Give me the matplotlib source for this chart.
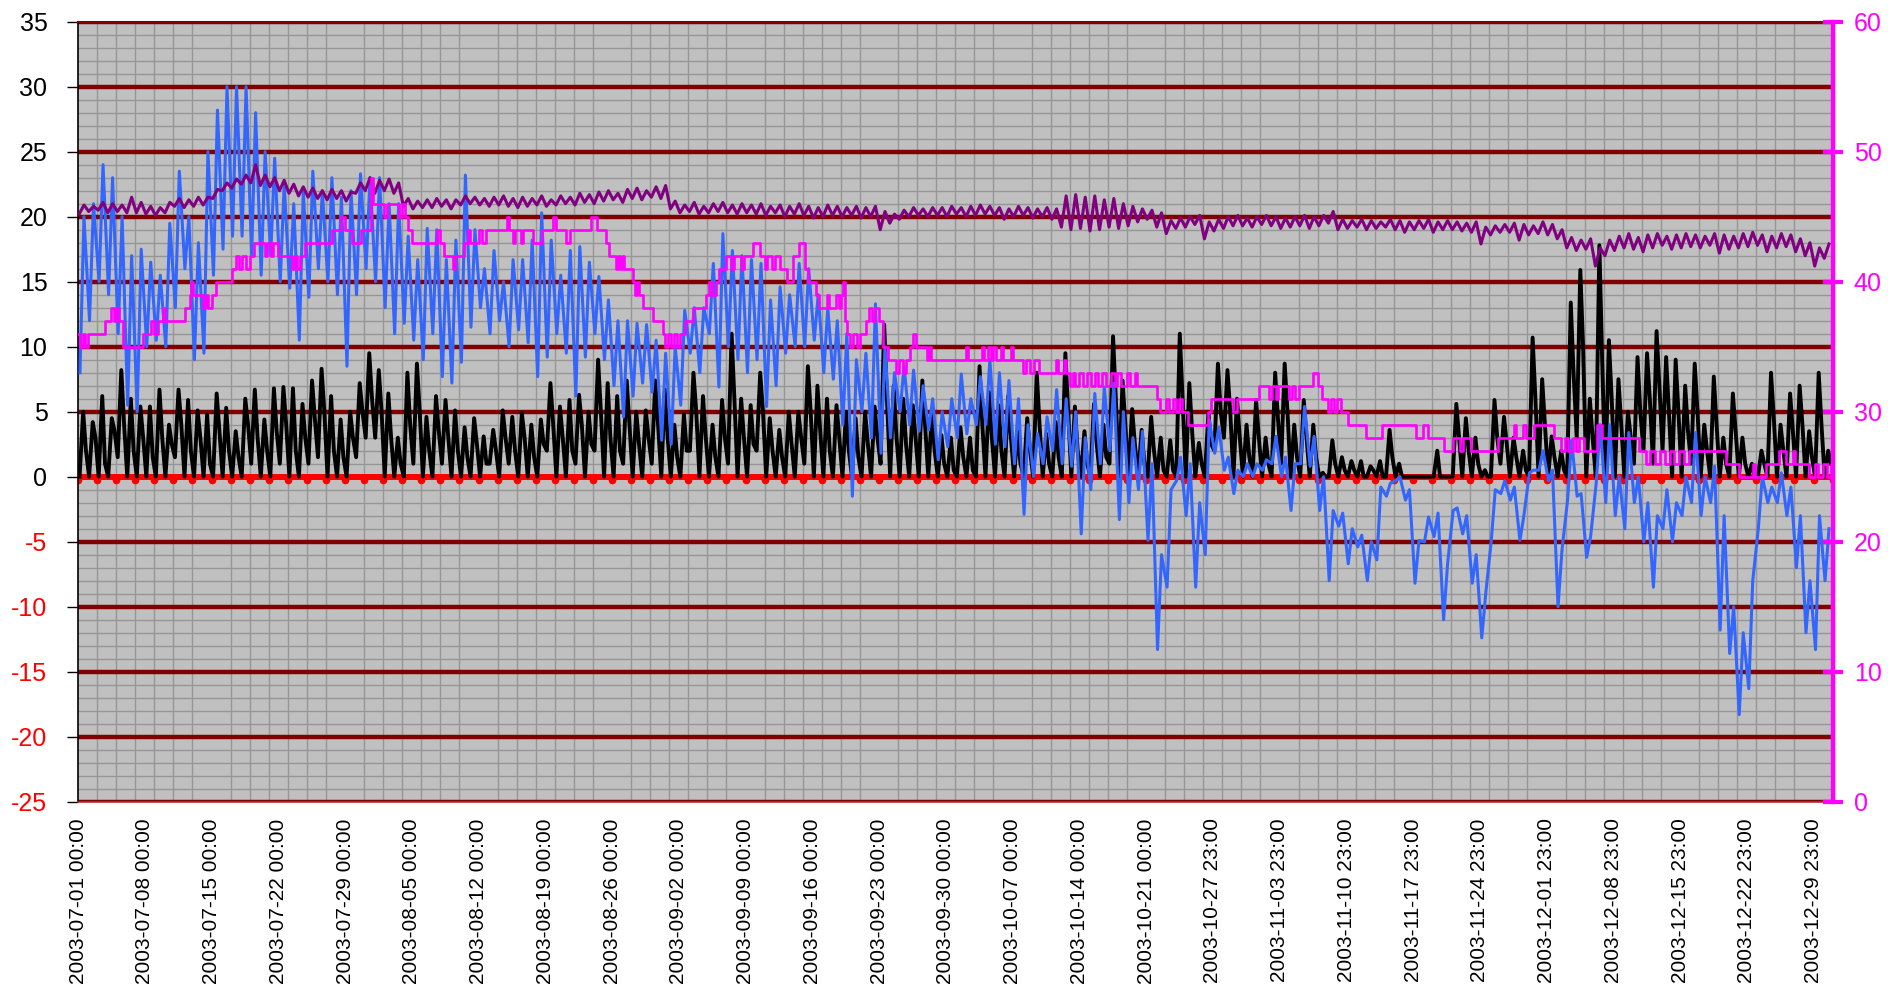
import numpy as np
import matplotlib
matplotlib.use("Agg")
import matplotlib.pyplot as plt
from matplotlib.ticker import MultipleLocator
from matplotlib.transforms import ScaledTranslation

plt.rcParams['font.family'] = ['Liberation Sans', 'DejaVu Sans']

# x tick labels (one every 168 hourly records)
tick_labels = [
    "2003-07-01 00:00", "2003-07-08 00:00", "2003-07-15 00:00", "2003-07-22 00:00",
    "2003-07-29 00:00", "2003-08-05 00:00", "2003-08-12 00:00", "2003-08-19 00:00",
    "2003-08-26 00:00", "2003-09-02 00:00", "2003-09-09 00:00", "2003-09-16 00:00",
    "2003-09-23 00:00", "2003-09-30 00:00", "2003-10-07 00:00", "2003-10-14 00:00",
    "2003-10-21 00:00", "2003-10-27 23:00", "2003-11-03 23:00", "2003-11-10 23:00",
    "2003-11-17 23:00", "2003-11-24 23:00", "2003-12-01 23:00", "2003-12-08 23:00",
    "2003-12-15 23:00", "2003-12-22 23:00", "2003-12-29 23:00",
]
n_hours = 4417

# blue series: daily low (early morning) and high (afternoon)
blue_lo = [8, 12, 15, 14, 11, 5.5, 5, 10, 10.5, 10,
           13, 16, 9, 9.5, 15.5, 17.5, 18.5, 18.5, 17, 15.5,
           17, 15, 14.5, 10.5, 13.8, 16, 15, 14, 8.5, 14,
           16, 15, 13, 11, 11.8, 10.5, 9, 11, 7.7, 7.2,
           8.8, 11.5, 13, 11, 12, 10, 11.3, 10.3, 7.7, 9.2,
           11, 9.5, 6.2, 9.2, 11, 9, 7, 4.6, 6.2, 7.2,
           6.5, 2.8, 2.5, 5.5, 9.5, 8, 11, 6.9, 10, 9,
           8, 9, 5.4, 7, 9.5, 10, 10, 10.5, 8, 7.5,
           4, -1.5, 5, 3, 1.8, 3, 5, 4, 3.5, 3.6,
           1.3, 2.3, 3, 3.3, 4, 4, 2.5, 2.3, 1, -2.9,
           0, 1, 2, 1, 0.8, -4.4, -1, 1, 2, -3.3,
           -2, -1, -4.9, -13.3, -8.5, -0.3, -3, -8.5, -6, 1.8,
           0.5, -1.3, 0, 0, 0.5, 1, 0, -2.6, 1, 0.8,
           -2.6, -8, -3.8, -6.7, -5.4, -8, -6.4, -1.5, -0.3, -1.8,
           -8.2, -5, -4.6, -11, -2.6, -4.4, -8.2, -12.4, -4.9, -1.3,
           -1.8, -4.9, 0.3, 0.5, -0.3, -10, -1.8, -1.5, -6.2, -0.5,
           -2, -3, -4, -2, -5, -8.5, -4, -5, -3, -2,
           -3, -2, -11.8, -13.6, -18.3, -16.3, -4, -2, -2, -3,
           -7, -12, -13.3, -8]
blue_hi = [20, 21, 24, 23, 20, 17, 17.5, 16.5, 15.5, 19.5,
           23.5, 20, 18, 25, 28.2, 30, 30, 30, 28, 25,
           24.5, 22.5, 21, 22, 23.5, 22, 23, 21.5, 22, 23.3,
           23, 23, 21, 21, 18.5, 16.7, 19.1, 19, 16.7, 18.2,
           23.2, 19, 16, 17.4, 15, 16.7, 16.7, 18.2, 20.3, 18.2,
           15.5, 17.4, 17.7, 16.5, 15.4, 13.6, 12, 12, 11.8, 11.7,
           10.5, 9.5, 10, 12.8, 13, 13, 16.4, 18.7, 17.4, 17,
           16.7, 16.4, 13.6, 14.6, 14, 16.4, 16, 14, 13, 12,
           11, 9, 9.5, 13.3, 10, 8, 8.5, 8.2, 7, 6,
           5, 6, 7.9, 6, 7.7, 9, 8, 7.4, 6, 4,
           3.3, 4.6, 6.7, 6, 5, 3, 6.4, 6.9, 7.2, 5,
           3, 3.5, 1, -6, -1, 1.5, 1, -2, 4.4, 3.8,
           1.5, 0.5, 1, 1, 1.3, 3.1, 1.5, 1, 5.4, 3.1,
           0, -2.6, -2.8, -4, -4.5, -5, -0.8, -0.5, 0, -1,
           -4.9, -3.1, -2.8, -6.7, -2.4, -3, -6, -9, -1, -0.3,
           -0.8, -3, 0.5, 2, 0.5, -5.6, 2.8, -1.3, -4.6, 4,
           4, 0, 3.4, 0, -2, -3, -1, -2, 0, 3.4,
           0, 0.8, -3, -10, -12, -8, 0, -0.8, 0.3, -0.8,
           -3, -8, -3, -4]

# black series: daily low (night), high (midday) and evening value
black_lo = [0, 0, 0, 0, 1.5, 0, 0, 0, 0, 0,
            1.5, 0, 0, 0, 0, 0, 0, 0, 1, 0,
            0, 1, 0, 0, 1, 1.5, 0, 0, 0, 1.5,
            3, 3, 0, 0, 0, 1, 0, 0, 1, 0,
            0, 0, 0, 1, 0, 1, 0, 0, 0, 2,
            0, 0, 1, 0, 2, 0, 0, 1, 0, 0,
            1, 0, 0, 0, 2, 0, 0, 0, 1, 0,
            0, 2, 0, 0, 0, 0, 1, 0, 0, 0,
            0, 0, 0, 0, 1, 0, 0, 0, 0, 0,
            0, 0, 0, 0, 0, 0, 0, 0, 0, 0,
            0, 0, 0, 0, 0, 0, 0, 0, 1, 0,
            0, 0, 0, 0, 0, 0, 0, 0, 0, 2,
            3, 0, 0, 0, 0, 0, 1, 0, 0, 0,
            0, 0, 0, 0, 0, 0, 0, 0, 0, 0,
            0, 0, 0, 0, 0, 0, 0, 0, 0, 1,
            0, 0, 0, 0, 0, 0, 0, 3, 0, 0,
            0, 0, 0, 1, 2, 1, 2, 0, 0, 1,
            0, 0, 0, 0, 0, 0, 0, 0, 0, 0,
            0, 0, 0, 0]
black_hi = [5, 4.2, 6.2, 4.5, 8.2, 6, 5.4, 5.4, 6.7, 4,
            6.7, 5.9, 5.1, 4.8, 6.4, 5.3, 3.5, 6, 6.7, 4.4,
            6.8, 6.9, 6.8, 5.6, 7.4, 8.3, 6.2, 4.4, 5, 7.2,
            9.5, 8.2, 6.4, 3, 8, 8.7, 4.6, 6.2, 5.9, 5.1,
            3.8, 4.5, 3.1, 3.6, 5.1, 4.6, 4.9, 4, 4.4, 7.2,
            5.4, 5.9, 6.3, 5, 9, 7.2, 6.2, 7.4, 5, 5.1,
            7.4, 6.7, 4, 4.8, 8, 6.2, 4, 5.9, 11, 6,
            5.5, 8, 4.5, 3.6, 5, 5, 8.5, 7, 6, 5.5,
            5, 4.5, 5, 5.4, 11.7, 7, 6, 5.5, 7.4, 5,
            3.2, 3, 3.8, 3, 8.5, 6.5, 5.5, 6.2, 3.5, 4.5,
            8, 3.3, 4.2, 9.5, 5.4, 3.5, 5.6, 4, 10.8, 7.4,
            5.2, 3.6, 4.6, 3, 2.8, 11, 7.2, 2.6, 4.9, 8.7,
            8.2, 6, 4, 5.9, 3, 8, 8.7, 4, 5.9, 4,
            0.3, 2.8, 1.5, 1.2, 1.2, 0.8, 1.2, 3.6, 1, 0,
            0, 0, 2, 0, 5.6, 4.5, 3, 0.5, 5.9, 4.6,
            3, 2, 10.7, 7.5, 3.1, 2, 13.4, 15.9, 6, 17.8,
            10.5, 7.5, 5, 9.2, 9.5, 11.2, 9.2, 9, 7, 8.7,
            4, 7.7, 3, 6.4, 3, 1, 2, 8, 4, 6.4,
            7, 3.5, 8, 2]
black_eve = [2, 3, 1, 3.5, 4, 2, 3, 1.5, 3, 2.5,
             4, 2, 3, 1, 3.5, 2, 1.5, 4, 3, 2,
             3.5, 4, 2, 3, 4.5, 5, 2, 1.5, 3, 5,
             6, 5, 3, 1, 4, 5, 2, 3.5, 3, 2,
             1.5, 2.5, 1, 2, 3, 2, 3, 1.5, 2.5, 4,
             3, 2, 4, 2.5, 5, 3, 2, 4, 2.5, 3,
             4, 3, 1.5, 2, 5, 3, 1.5, 3, 6, 3,
             2.5, 5, 2, 1.5, 2.5, 3, 5, 3.5, 2, 3,
             2, 1.5, 2.5, 3, 6, 3, 2.5, 3, 4, 2,
             1, 0.5, 1.5, 0.5, 4, 3, 2, 3, 1, 2,
             4, 1, 1.5, 5, 2, 1, 2.5, 1.5, 6, 4,
             2.5, 1, 2, 0.5, 0.5, 6, 3.5, 1, 2.5, 5,
             5, 3, 1.5, 3, 1, 4.5, 5, 1.5, 3, 1.5,
             0, 1, 0.5, 0.5, 0, 0.5, 0, 1.5, 0, 0,
             0, 0, 0, 0, 3, 2, 1, 0, 3, 2.5,
             1.5, 0.5, 6, 4, 1.5, 0.5, 8, 10, 3, 9,
             6, 4, 3, 5, 6, 7, 5, 5, 3.5, 5,
             2, 4, 1, 3.5, 1, 0, 1, 4.5, 2, 3.5,
             4, 1.5, 4, 1]

# purple series: daily low and high
purple_lo = [20.2, 20.4, 20.5, 20.3, 20.4, 20.3, 20.3, 20.2, 20.1, 20.3,
             20.8, 20.7, 20.8, 20.9, 21.4, 22.0, 22.2, 22.5, 22.6, 22.4,
             22.3, 22.0, 21.8, 21.6, 21.5, 21.4, 21.3, 21.4, 21.2, 21.8,
             22.0, 21.8, 22.0, 21.8, 20.8, 20.6, 20.7, 20.7, 20.8, 20.6,
             20.9, 21.0, 20.9, 20.8, 20.9, 20.8, 20.7, 20.8, 20.9, 20.8,
             20.9, 21.0, 20.9, 21.1, 21.0, 21.2, 21.3, 21.1, 21.4, 21.3,
             21.5, 21.4, 20.6, 20.3, 20.4, 20.2, 20.3, 20.4, 20.3, 20.2,
             20.3, 20.2, 20.1, 20.3, 20.0, 20.2, 20.1, 19.9, 20.0, 20.1,
             20.0, 20.1, 19.9, 20.0, 19.0, 19.5, 19.8, 20.0, 20.1, 20.0,
             20.1, 20.0, 20.2, 20.0, 20.1, 20.2, 20.1, 19.8, 20.0, 20.1,
             19.9, 20.0, 19.8, 19.2, 19.0, 19.1, 18.9, 19.0, 19.2, 19.1,
             19.3, 19.6, 19.8, 19.2, 18.7, 19.1, 19.2, 19.4, 18.3, 18.9,
             19.1, 19.3, 19.3, 19.2, 19.4, 19.3, 19.1, 19.2, 19.3, 19.1,
             19.3, 19.5, 19.0, 19.1, 19.2, 19.0, 19.1, 19.2, 19.0, 18.8,
             19.0, 19.1, 18.8, 19.0, 19.0, 18.9, 18.8, 17.9, 18.6, 18.8,
             18.8, 18.2, 18.6, 18.7, 18.6, 18.3, 17.6, 17.4, 17.5, 16.2,
             17.0, 17.4, 17.6, 17.5, 17.3, 17.6, 17.8, 17.5, 17.6, 17.7,
             17.6, 17.8, 17.2, 17.5, 17.6, 17.7, 17.8, 17.3, 17.6, 17.7,
             17.3, 17.0, 16.2, 16.8]
purple_hi = [20.9, 20.8, 21.1, 21.0, 20.9, 21.5, 21.1, 20.8, 20.7, 21.1,
             21.4, 21.3, 21.5, 21.5, 22.1, 22.6, 22.9, 23.2, 24.0, 23.2,
             23.0, 22.8, 22.5, 22.3, 22.2, 22.0, 22.1, 22.0, 21.9, 22.6,
             23.0, 22.8, 22.9, 22.6, 21.4, 21.2, 21.3, 21.4, 21.3, 21.3,
             21.6, 21.5, 21.4, 21.5, 21.6, 21.4, 21.5, 21.4, 21.6, 21.3,
             21.6, 21.5, 21.8, 21.7, 21.9, 22.0, 21.8, 22.1, 22.2, 22.0,
             22.3, 22.4, 21.2, 20.9, 21.1, 20.8, 21.0, 21.1, 20.9, 21.0,
             20.9, 21.0, 20.8, 20.9, 20.8, 21.0, 20.8, 20.7, 20.9, 20.8,
             20.7, 20.8, 20.7, 20.8, 20.4, 20.2, 20.5, 20.7, 20.6, 20.7,
             20.7, 20.8, 20.7, 20.8, 20.9, 20.8, 20.7, 20.6, 20.8, 20.7,
             20.6, 20.7, 20.6, 21.6, 21.7, 21.5, 21.6, 21.3, 21.4, 21.0,
             20.8, 20.6, 20.5, 20.3, 19.7, 19.9, 20.0, 20.1, 19.6, 19.8,
             20.0, 20.1, 19.9, 20.0, 20.1, 20.0, 19.9, 20.0, 20.1, 20.0,
             20.1, 20.4, 19.8, 19.7, 19.8, 19.7, 19.6, 19.8, 19.7, 19.6,
             19.7, 19.8, 19.6, 19.7, 19.6, 19.5, 19.6, 19.2, 19.3, 19.4,
             19.5, 19.4, 19.3, 19.6, 19.4, 19.0, 18.4, 18.2, 18.3, 17.6,
             18.2, 18.5, 18.7, 18.4, 18.6, 18.7, 18.5, 18.6, 18.7, 18.6,
             18.5, 18.7, 18.6, 18.5, 18.7, 18.8, 18.6, 18.5, 18.7, 18.6,
             18.3, 18.0, 17.6, 17.9]

# magenta series (right axis): (day where the level changes, new level)
magenta_steps = [
    (0.0, 36), (0.2, 35), (0.5, 36), (0.7, 35), (1.0, 36), (2.8, 37), (3.5, 38), (3.8, 37),
    (4.0, 38), (4.3, 37), (4.7, 35), (6.8, 36), (7.7, 37), (8.0, 36), (8.4, 37), (8.9, 38),
    (9.1, 37), (11.2, 38), (11.7, 39), (11.9, 40), (12.1, 39), (13.1, 38), (13.4, 39),
    (13.6, 38), (14.0, 39), (14.5, 40), (16.1, 41), (16.6, 42), (16.9, 41), (17.2, 42),
    (17.6, 41), (18.0, 42), (18.5, 43), (19.6, 42), (19.8, 43), (20.2, 42), (20.5, 43),
    (21.0, 42), (22.4, 41), (22.7, 42), (23.0, 41), (23.3, 42), (23.8, 43), (26.6, 44),
    (27.6, 45), (28.0, 44), (28.7, 43), (29.7, 44), (30.7, 48), (30.9, 46), (32.1, 45),
    (32.4, 46), (33.7, 45), (34.0, 46), (34.3, 45), (34.6, 44), (35.0, 43), (37.6, 44),
    (38.0, 43), (38.4, 42), (39.3, 41), (39.5, 42), (40.5, 43), (40.9, 44), (41.1, 43),
    (42.1, 44), (42.4, 43), (42.8, 44), (45.0, 45), (45.2, 44), (45.6, 43), (45.8, 44),
    (46.5, 43), (46.7, 44), (47.7, 43), (48.7, 44), (49.8, 45), (50.1, 44), (51.2, 43),
    (51.6, 44), (53.8, 45), (54.4, 44), (55.4, 43), (55.7, 42), (56.4, 41), (56.6, 42),
    (56.8, 41), (57.0, 42), (57.3, 41), (58.2, 40), (58.4, 39), (58.6, 40), (58.8, 39),
    (59.2, 38), (60.3, 37), (61.3, 36), (61.6, 35), (61.9, 36), (62.2, 35), (62.5, 36),
    (62.8, 35), (63.1, 36), (63.7, 37), (64.5, 38), (65.9, 39), (66.2, 40), (66.5, 39),
    (66.9, 40), (67.2, 41), (68.0, 42), (68.5, 41), (68.8, 42), (69.5, 41), (69.8, 42),
    (70.8, 43), (71.5, 42), (72.0, 41), (72.3, 42), (72.8, 41), (73.1, 42), (73.6, 41),
    (74.3, 40), (75.0, 42), (75.6, 43), (76.2, 41), (76.6, 40), (77.4, 39), (77.7, 38),
    (78.5, 39), (78.8, 38), (79.5, 39), (79.8, 38), (80.0, 39), (80.2, 40), (80.4, 37),
    (80.6, 36), (81.0, 35), (81.3, 36), (81.7, 35), (82.0, 36), (82.6, 37), (83.0, 38),
    (83.3, 37), (83.6, 38), (84.0, 37), (84.4, 35), (84.9, 34), (85.8, 33), (86.1, 34),
    (86.5, 33), (86.8, 34), (87.2, 35), (87.6, 36), (87.9, 35), (89.0, 34), (89.2, 35),
    (89.5, 34), (93.1, 35), (93.3, 34), (94.8, 35), (95.0, 34), (95.4, 35), (95.7, 34),
    (96.0, 35), (96.3, 34), (96.8, 35), (97.0, 34), (97.8, 35), (98.0, 34), (99.1, 33),
    (99.4, 34), (99.8, 33), (100.3, 34), (100.8, 33), (102.6, 34), (102.8, 33), (103.4, 34),
    (103.6, 33), (104.0, 32), (104.3, 33), (104.6, 32), (105.0, 33), (105.4, 32), (105.8, 33),
    (106.2, 32), (106.6, 33), (107.0, 32), (107.4, 33), (107.8, 32), (108.3, 33), (108.7, 32),
    (109.0, 33), (109.4, 32), (110.0, 33), (110.3, 32), (110.8, 33), (111.1, 32), (113.2, 31),
    (113.5, 30), (114.1, 31), (114.4, 30), (114.8, 31), (115.1, 30), (115.5, 31), (115.8, 30),
    (116.4, 29), (118.5, 30), (118.8, 31), (121.1, 30), (121.5, 31), (123.9, 32), (124.9, 31),
    (125.2, 32), (125.6, 31), (125.8, 32), (127.0, 31), (127.3, 32), (127.6, 31), (128.0, 32),
    (129.5, 33), (130.0, 32), (130.5, 31), (131.1, 30), (131.4, 31), (131.7, 30), (132.0, 31),
    (132.4, 30), (133.2, 29), (135.1, 28), (136.7, 29), (140.3, 28), (141.0, 29), (141.6, 28),
    (143.3, 27), (144.2, 28), (144.9, 27), (145.2, 28), (146.1, 27), (148.9, 28), (150.6, 29),
    (150.8, 28), (151.5, 29), (151.8, 28), (152.7, 29), (154.8, 28), (155.5, 27), (155.9, 28),
    (156.3, 27), (156.8, 28), (157.1, 27), (157.4, 28), (157.9, 27), (159.3, 29), (159.8, 28),
    (163.7, 27), (164.4, 26), (164.9, 27), (165.4, 26), (165.9, 27), (166.4, 26), (166.9, 27),
    (167.4, 26), (167.9, 27), (168.4, 26), (168.9, 27), (172.8, 26), (174.2, 25), (175.6, 26),
    (175.9, 25), (177.0, 26), (178.4, 27), (179.1, 26), (179.8, 27), (180.1, 26), (181.5, 25),
    (182.2, 26), (182.5, 25), (183.0, 26), (183.4, 25), (183.8, 26),
]

# ---- build x positions (hour index) ----
day_start = np.arange(len(blue_lo)) * 24
blue_x = np.column_stack([day_start + 5, day_start + 15]).ravel()
blue_y = np.column_stack([blue_lo, blue_hi]).ravel()
black_x = np.column_stack([day_start + 4, day_start + 13, day_start + 20]).ravel()
black_y = np.column_stack([black_lo, black_hi, black_eve]).ravel()
purple_x = np.column_stack([day_start + 3, day_start + 15]).ravel()
purple_y = np.column_stack([purple_lo, purple_hi]).ravel()
mag_x = [d * 24 for d, v in magenta_steps] + [n_hours]
mag_y = [v for d, v in magenta_steps] + [magenta_steps[-1][1]]

fig = plt.figure(figsize=(18.88, 9.85), dpi=100)
ax = fig.add_axes([78 / 1888, 1 - 801.7 / 985, (1833 - 78) / 1888, 780 / 985])
ax.set_facecolor('#C0C0C0')
ax.set_xlim(0, n_hours)
ax.set_ylim(-25, 35)

# grid
ax.xaxis.set_minor_locator(MultipleLocator(48))
ax.yaxis.set_minor_locator(MultipleLocator(1))
ax.grid(which='minor', color='#969696', lw=1.0)
ax.grid(which='major', axis='y', color='#800000', lw=3.2)
ax.set_axisbelow(True)
ax.tick_params(which='minor', length=0)

# zero line with small dots hanging below
ax.axhline(0, color='#FF0000', lw=4.3, zorder=2)
dot_x = np.arange(0, n_hours, 48)
ax.plot(dot_x, np.zeros(len(dot_x)), 'o', color='#FF0000', ms=4.5, zorder=2,
        transform=ax.transData + ScaledTranslation(0, -0.035, fig.dpi_scale_trans))

ax.plot(black_x, black_y, color='black', lw=2.8, zorder=3)
ax.plot(blue_x, blue_y, color='#3366FF', lw=2.2, zorder=4)
ax.plot(purple_x, purple_y, color='#800080', lw=2.2, zorder=5)

# left axis
yt = list(range(-25, 40, 5))
ax.set_yticks(yt)
ax.set_yticklabels([str(v) for v in yt])
for lab, v in zip(ax.get_yticklabels(), yt):
    lab.set_color('#FF0000' if v < 0 else 'black')
ax.tick_params(axis='y', which='major', length=8, width=1, labelsize=18, pad=14)
ax.set_xticks(np.arange(len(tick_labels)) * 168)
ax.set_xticklabels(tick_labels, rotation=90, fontsize=15)
ax.tick_params(axis='x', which='major', length=0, pad=12)

ax.spines['top'].set_color('#800000')
ax.spines['top'].set_linewidth(1.5)
ax.spines['bottom'].set_color('#B03030')
ax.spines['bottom'].set_linewidth(1.2)
ax.spines['left'].set_color('black')
ax.spines['left'].set_linewidth(1.2)
ax.spines['right'].set_visible(False)

# right axis
ax2 = ax.twinx()
ax2.set_ylim(0, 60)
ax2.plot(mag_x, mag_y, color='#FF00FF', lw=1.9, drawstyle='steps-post')
ax2.set_yticks(range(0, 70, 10))
ax2.tick_params(axis='y', colors='#FF00FF', direction='inout', length=14, width=3,
                labelsize=18, pad=8)
for s in ['top', 'bottom', 'left']:
    ax2.spines[s].set_visible(False)
ax2.spines['right'].set_color('#FF00FF')
ax2.spines['right'].set_linewidth(3.2)

fig.savefig('out.png', dpi=100)
